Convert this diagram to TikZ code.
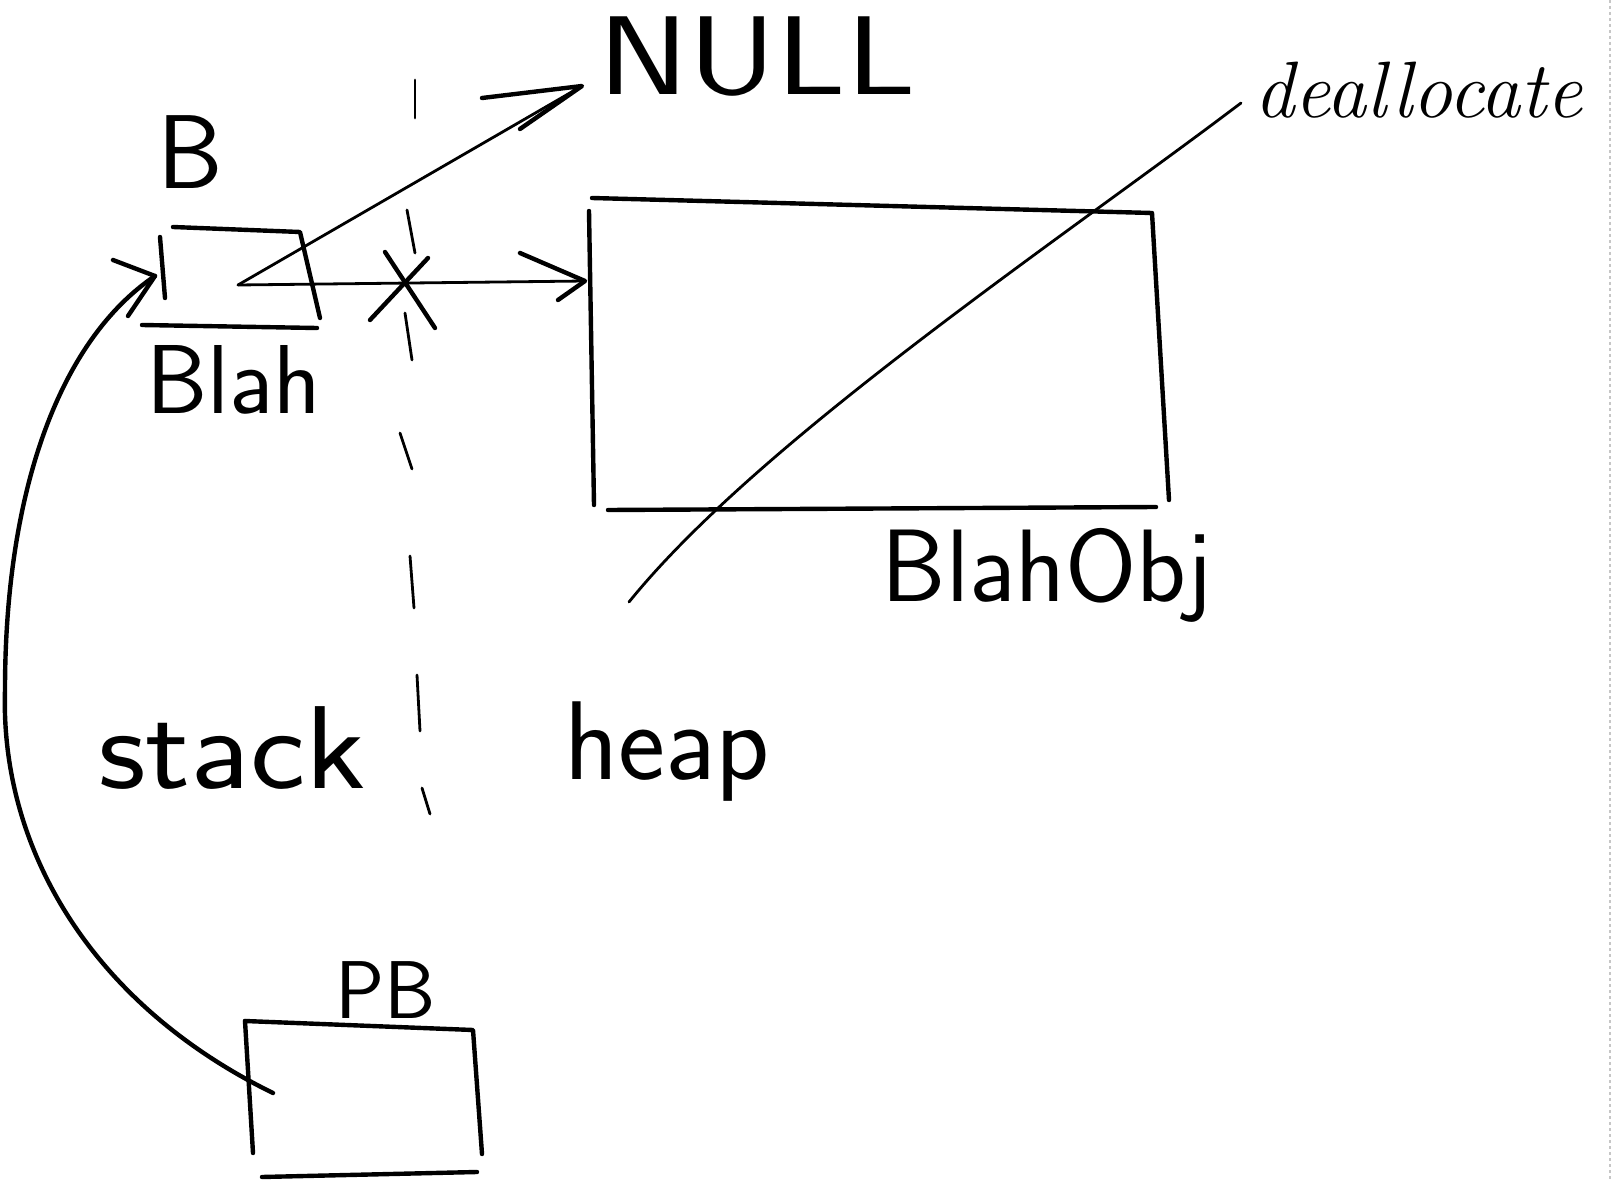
\documentclass[tikz,border=0pt]{standalone}
\tikzset{
  pen/.style={line width=4.4pt, line cap=round, line join=round},
  thinpen/.style={line width=2.8pt, line cap=round, line join=round},
  hand/.style={inner sep=0pt, font=\sffamily\fontsize{100}{100}\selectfont},
  cursive/.style={inner sep=0pt, font=\rmfamily\itshape\fontsize{80}{80}\selectfont},
}
\begin{document}
\begin{tikzpicture}[x=1pt, y=-1pt]
\fill[white] (0,0) rectangle (1615,1182);
\useasboundingbox (0,0) rectangle (1615,1182);
% faint scan edge
\draw[gray!45, line width=1.5pt, dash pattern=on 3pt off 3pt] (1610,0) -- (1610,1182);

% labels
\node[hand, font=\sffamily\fontsize{112}{112}\selectfont, xscale=1.22] (null) at (757,57) {NULL};
\node[cursive] (dealloc) at (1418,90) {deallocate};
\node[hand, font=\sffamily\fontsize{105}{105}\selectfont] (blab) at (190,152) {B};
\node[hand, font=\sffamily\fontsize{98}{98}\selectfont] (blahlab) at (234,380) {Blah};
\node[hand, font=\sffamily\fontsize{103}{103}\selectfont] (objlab) at (1047,575) {BlahObj};
\node[hand, font=\sffamily\fontsize{118}{118}\selectfont, xscale=1.12] (stack) at (232,748) {stack};
\node[hand, font=\sffamily\fontsize{112}{112}\selectfont] (heap) at (667,752) {heap};
\node[hand, font=\sffamily\fontsize{82}{82}\selectfont] (pblab) at (386,990) {PB};

% box B (pointer on stack)
\draw[pen] (173,227) -- (300,232) -- (320,318);
\draw[pen] (160,237) -- (165,298);
\draw[pen] (142,325) -- (317,328);
\coordinate (bptr) at (238,285);
\coordinate (bleft) at (155,276);

% heap object box
\draw[pen] (592,198) -- (1152,213) -- (1169,500);
\draw[pen] (589,211) -- (594,505);
\draw[pen] (608,510) -- (1156,507);
\coordinate (heapL) at (585,281);

% PB box
\draw[pen] (245,1021) -- (473,1030) -- (482,1154);
\draw[pen] (245,1021) -- (253,1153);
\draw[pen] (262,1177) -- (477,1172);
\coordinate (pbptr) at (273,1093);

% stack/heap divider (dashed, hand drawn)
\draw[thinpen] (415,80) -- (415,118);
\draw[thinpen] (407,210) -- (415,253);
\draw[thinpen] (405,313) -- (412,360);
\draw[thinpen] (400,433) -- (412,469);
\draw[thinpen] (410,556) -- (414,608);
\draw[thinpen] (417,675) -- (420,731);
\draw[thinpen] (422,788) -- (430,814);

% B -> heap object (crossed out)
\draw[thinpen] (bptr) -- (heapL);
\draw[pen] (520,253) -- (heapL) -- (558,300);
\draw[pen] (385,252) -- (435,328);
\draw[pen] (428,258) -- (370,320);

% B -> NULL
\coordinate (nulltip) at (582,86);
\draw[thinpen] (bptr) -- (nulltip);
\draw[pen] (482,98) -- (nulltip) -- (520,129);

% deallocate stroke
\coordinate (dtop) at (1241,103);
\coordinate (dbot) at (629,602);
\draw[thinpen] (dtop) .. controls (1060,240) and (760,440) .. (dbot);

% PB -> B
\coordinate (mid) at (5,690);
\draw[pen] (pbptr) .. controls (93,1005) and (0,850) .. (mid)
  .. controls (5,490) and (60,340) .. (bleft);
\draw[pen] (113,260) -- (bleft) -- (128,316);
\end{tikzpicture}
\end{document}
